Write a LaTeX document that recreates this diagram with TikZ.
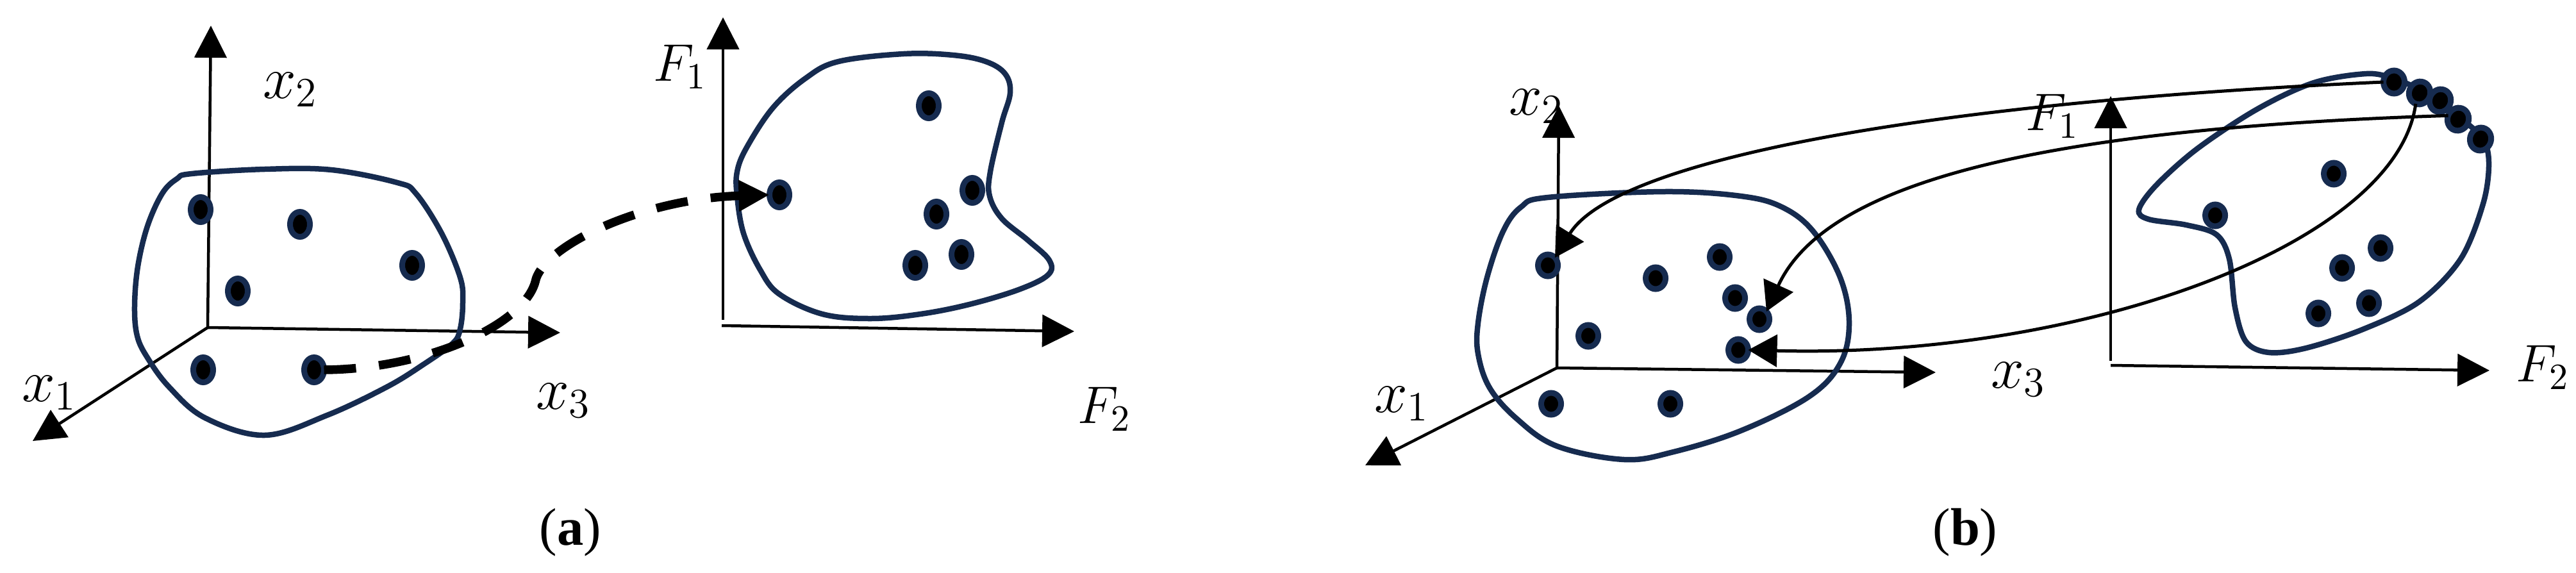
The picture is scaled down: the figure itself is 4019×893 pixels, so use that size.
\RequirePackage{fix-cm}
\documentclass[tikz,border=0pt]{standalone}
\usepackage{fontspec}
\newfontfamily\capfont{Liberation Serif}
\usetikzlibrary{arrows.meta,shapes.geometric}
\definecolor{navy}{RGB}{22,43,79}
\begin{document}
\begin{tikzpicture}[x=0.2pt,y=-0.2pt,
  axis/.style={line width=0.9pt, -{Triangle[length=10pt,width=10pt]}},
  blob/.style={draw=navy, line width=1.7pt},
  dota/.style={ellipse, draw=navy, line width=1.8pt, fill=black, minimum width=6.2pt, minimum height=7.8pt, inner sep=0pt, outer sep=0pt},
  dotb/.style={dota, minimum height=6.8pt},
  dotc/.style={dota, minimum width=6.6pt, minimum height=7.2pt},
  lab/.style={anchor=base west, inner sep=0pt, font=\fontsize{18.6}{20}\selectfont},
  flab/.style={anchor=base west, inner sep=0pt, font=\fontsize{16.5}{18}\selectfont},
  captext/.style={anchor=base, inner sep=0pt, font=\capfont\fontsize{16.5}{18}\selectfont},
  link/.style={line width=1pt, -{Triangle[length=9pt,width=10pt]}},
  dashlink/.style={line width=2.7pt, dash pattern=on 10pt off 7.2pt, -{Triangle[length=9.6pt,width=9.2pt]}}
]
\useasboundingbox (0,0) rectangle (4019,893);

% ---------- panel (a), input space ----------
\coordinate (aO) at (324,511);
\coordinate (aX1) at (51,688);
\coordinate (aX2) at (329,40);
\coordinate (aX3) at (874,519);
\draw[axis] (aO) -- (aX2);
\draw[axis] (aO) -- (aX3);
\draw[axis] (aO) -- (aX1);
\draw[blob] plot[smooth cycle, tension=0.6] coordinates {
 (299,271) (413,264) (517,265) (620,285) (649,302) (689,364) (718,433) (722,472)
 (718,513) (706,536) (660,569) (603,604) (510,648) (413,679) (320,652)
 (264,604) (230,558) (214,524) (210,478) (215,416) (230,353) (253,302) (276,279)};
\node[dota] (la1) at (313,327) {};
\node[dota] (la2) at (468,350) {};
\node[dota] (la3) at (371,454) {};
\node[dota] (la4) at (643,414) {};
\node[dota] (la5) at (317,577) {};
\node[dota] (la6) at (490,577) {};
\node[lab] (lx2a) at (409,153) {$x_2$};
\node[lab] (lx1a) at (33,626) {$x_1$};
\node[lab] (lx3a) at (835,638) {$x_3$};

% ---------- panel (a), feature space ----------
\coordinate (aF1o) at (1128,499);
\coordinate (aF1) at (1128,27);
\coordinate (aF2o) at (1126,508);
\coordinate (aF2) at (1676,517);
\draw[axis] (aF1o) -- (aF1);
\draw[axis] (aF2o) -- (aF2);
\draw[blob] plot[smooth cycle, tension=0.6] coordinates {
 (1410,84) (1487,86) (1538,96) (1568,115) (1576,145) (1563,191) (1545,268) (1544,306)
 (1563,341) (1604,375) (1637,406) (1635,429) (1589,452) (1512,475) (1436,490) (1359,497)
 (1283,490) (1216,459) (1186,421) (1160,364) (1150,306) (1150,268) (1165,230) (1206,168)
 (1257,122) (1308,96)};
\node[dota] (ra1) at (1449,165) {};
\node[dota] (ra2) at (1216,304) {};
\node[dota] (ra3) at (1517,297) {};
\node[dota] (ra4) at (1461,334) {};
\node[dota] (ra5) at (1500,397) {};
\node[dota] (ra6) at (1428,414) {};
\node[flab] (lF1a) at (1018,126) {$F_1$};
\node[flab] (lF2a) at (1680,660) {$F_2$};

\draw[dashlink] (la6.east) .. controls (660,576) and (815,510) .. (835,440)
  .. controls (845,385) and (1000,310) .. (ra2.west);

\node[captext] (capa) at (890,850) {(\textbf{a})};

% ---------- panel (b), input space ----------
\coordinate (bO) at (2429,574);
\coordinate (bX1) at (2130,726);
\coordinate (bX2) at (2432,165);
\coordinate (bX3) at (3020,581);
\draw[axis] (bO) -- (bX2);
\draw[axis] (bO) -- (bX3);
\draw[axis] (bO) -- (bX1);
\draw[blob] plot[smooth cycle, tension=0.6] coordinates {
 (2597,299) (2716,306) (2780,323) (2829,361) (2871,433) (2885,504) (2871,567) (2822,619)
 (2716,672) (2611,705) (2534,717) (2429,696) (2366,653) (2324,605) (2306,552) (2306,504)
 (2320,433) (2345,361) (2373,323) (2415,308)};
\node[dotb] (bl1) at (2415,414) {};
\node[dotb] (bl2) at (2583,434) {};
\node[dotb] (bl3) at (2683,401) {};
\node[dotb] (bl4) at (2707,465) {};
\node[dotb] (bl5) at (2745,498) {};
\node[dotb] (bl6) at (2712,546) {};
\node[dotb] (bl7) at (2478,524) {};
\node[dotb] (bl8) at (2420,630) {};
\node[dotb] (bl9) at (2606,630) {};
\node[lab] (lx2b) at (2353,179) {$x_2$};
\node[lab] (lx1b) at (2143,643) {$x_1$};
\node[lab] (lx3b) at (3105,605) {$x_3$};

% ---------- panel (b), feature space ----------
\coordinate (bF1o) at (3293,563);
\coordinate (bF1) at (3293,150);
\coordinate (bF2o) at (3293,570);
\coordinate (bF2) at (3884,578);
\draw[axis] (bF1o) -- (bF1);
\draw[axis] (bF2o) -- (bF2);
\draw[blob] plot[smooth cycle, tension=0.55] coordinates {
 (3692,115) (3610,129) (3522,170) (3428,232) (3364,289) (3337,327) (3352,342) (3411,351)
 (3458,366) (3478,404) (3487,480) (3504,533) (3540,550) (3598,543) (3686,514) (3774,471)
 (3839,404) (3874,318) (3883,256) (3874,217) (3839,184) (3803,153) (3768,136) (3733,122)};
\node[dotb] (br1) at (3641,271) {};
\node[dotb] (br2) at (3456,336) {};
\node[dotb] (br3) at (3714,387) {};
\node[dotb] (br4) at (3654,418) {};
\node[dotb] (br5) at (3696,473) {};
\node[dotb] (br6) at (3617,489) {};
\node[dotc] (bc1) at (3735,128) {};
\node[dotc, rotate=-20] (bc2) at (3775,145) {};
\node[dotc, rotate=-20] (bc3) at (3807,157) {};
\node[dotc, rotate=-20] (bc4) at (3835,186) {};
\node[dotc, rotate=-15] (bc5) at (3870,217) {};
\node[flab] (lF1b) at (3159,203) {$F_1$};
\node[flab] (lF2b) at (3924,595) {$F_2$};

\draw[link] (bc1.west) .. controls (3000,160) and (2520,250) .. (bl1.north east);
\draw[link] (bc4.west) .. controls (3200,200) and (2850,280) .. (bl5.north east);
\draw[link] (bc2.south) .. controls (3740,380) and (3250,560) .. (bl6.east);

\node[captext] (capb) at (3066,850) {(\textbf{b})};
\end{tikzpicture}
\end{document}
